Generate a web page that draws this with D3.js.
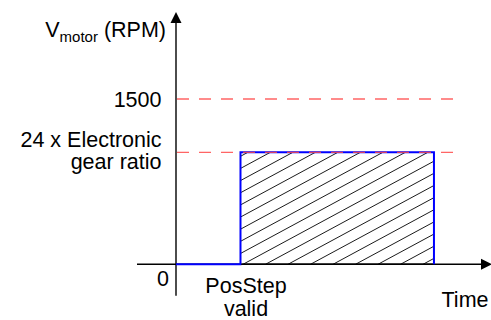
<!DOCTYPE html>
<html>
<head>
<meta charset="utf-8">
<script src="https://cdn.jsdelivr.net/npm/d3@7"></script>
<style>
  html, body { margin: 0; padding: 0; background: #fff; }
  svg { display: block; }
  text { font-family: "Liberation Sans", Arial, sans-serif; fill: #000; }
</style>
</head>
<body>
<svg id="chart" width="491" height="320"></svg>
<script>
// ---- data ----
const rpmTickValues = [0, 1500];
const rpmTickLabels = ["0", "1500"];
const gearRatioRPM = 1016;
const gearLabelLines = ["24 x Electronic", "gear ratio"];
const profileTime = [0, 20, 20, 80, 80];
const profileSpeed = [0, 0, gearRatioRPM, gearRatioRPM, 0];
const eventTime = 20;
const eventLabelLines = ["PosStep", "valid"];
const limitLines = [1500, gearRatioRPM];
const limitEndTime = 88.4;
const axisTimeMax = 98;
const yTitle = { main: "V", sub: "motor", rest: " (RPM)" };
const xTitle = "Time";

// ---- layout ----
const svg = d3.select("#chart");
const x = d3.scaleLinear().domain([0, axisTimeMax]).range([176, 492]);
const y = d3.scaleLinear().domain([0, 1500]).range([264.3, 99]);
const FS = 21.5;

// hatch clip
const defs = svg.append("defs");
const rx0 = x(profileTime[1]), rx1 = x(profileTime[3]);
const ry0 = y(gearRatioRPM), ry1 = y(0);
defs.append("clipPath").attr("id", "rectClip")
  .append("rect").attr("x", rx0).attr("y", ry0)
  .attr("width", rx1 - rx0).attr("height", ry1 - ry0);

// hatch lines (slope rising to the right)
const hatchDx = 22.5, slope = 0.54, hatchStart = rx0 + 2.5;
const hatchG = svg.append("g").attr("clip-path", "url(#rectClip)");
const H = ry1 - ry0;
const kMin = -Math.ceil((H / slope) / hatchDx) - 1;
const kMax = Math.ceil((rx1 - rx0) / hatchDx) + 1;
for (let k = kMin; k <= kMax; k++) {
  const bx = hatchStart + k * hatchDx;
  hatchG.append("line")
    .attr("x1", bx).attr("y1", ry1)
    .attr("x2", bx + H / slope).attr("y2", ry0)
    .attr("stroke", "#000").attr("stroke-width", 0.9);
}

// x axis
const xAxisY = y(0);
svg.append("line")
  .attr("x1", x(0) - 39).attr("y1", xAxisY)
  .attr("x2", x(axisTimeMax) - 10).attr("y2", xAxisY)
  .attr("stroke", "#000").attr("stroke-width", 1.4);
svg.append("path")
  .attr("d", `M${x(axisTimeMax)},${xAxisY} L${x(axisTimeMax) - 11},${xAxisY - 5.5} L${x(axisTimeMax) - 11},${xAxisY + 5.5} Z`)
  .attr("fill", "#000");

// y axis
const yTop = 12;
svg.append("line")
  .attr("x1", x(0)).attr("y1", xAxisY + 31.4)
  .attr("x2", x(0)).attr("y2", yTop + 8)
  .attr("stroke", "#000").attr("stroke-width", 1.4);
svg.append("path")
  .attr("d", `M${x(0)},${yTop} L${x(0) - 5.5},${yTop + 11} L${x(0) + 5.5},${yTop + 11} Z`)
  .attr("fill", "#000");

// speed profile (blue)
const line = d3.line().x((d, i) => x(profileTime[i])).y((d, i) => y(profileSpeed[i]));
svg.append("path")
  .datum(profileTime)
  .attr("d", line)
  .attr("fill", "none")
  .attr("stroke", "#0000ff")
  .attr("stroke-width", 2);

// bottom axis segment under rectangle in black
svg.append("line")
  .attr("x1", rx0 + 1).attr("y1", xAxisY).attr("x2", rx1 - 1).attr("y2", xAxisY)
  .attr("stroke", "#000").attr("stroke-width", 1.4);

// red dashed limit lines
svg.selectAll(".limit").data(limitLines).enter().append("line")
  .attr("class", "limit")
  .attr("x1", x(0) + 1).attr("x2", x(limitEndTime))
  .attr("y1", d => y(d)).attr("y2", d => y(d))
  .attr("stroke", "#ff4a4a").attr("stroke-opacity", 0.85)
  .attr("stroke-width", 1.4)
  .attr("stroke-dasharray", "12,10");

// y tick labels
const labelX = 161.5;
svg.selectAll(".ytl").data(rpmTickValues.filter(v => v !== 0)).enter().append("text")
  .attr("x", labelX).attr("y", d => y(d) + 7.7)
  .attr("text-anchor", "end").attr("font-size", FS)
  .text((d) => rpmTickLabels[rpmTickValues.indexOf(d)]);
svg.append("text")
  .attr("x", 169).attr("y", y(0) + 21.4)
  .attr("text-anchor", "end").attr("font-size", FS)
  .text(rpmTickLabels[0]);

// gear ratio label
svg.selectAll(".gl").data(gearLabelLines).enter().append("text")
  .attr("x", labelX)
  .attr("y", (d, i) => y(gearRatioRPM) - 5.6 + i * 22.6)
  .attr("text-anchor", "end").attr("font-size", FS)
  .text(d => d);

// y title
const yt = svg.append("text").attr("x", 166).attr("y", 37)
  .attr("text-anchor", "end").attr("font-size", FS);
yt.append("tspan").text(yTitle.main);
yt.append("tspan").attr("font-size", 15).attr("dy", 4.5).text(yTitle.sub);
yt.append("tspan").attr("dy", -4.5).text(yTitle.rest);

// event label
svg.selectAll(".ev").data(eventLabelLines).enter().append("text")
  .attr("x", x(eventTime) + 5.5)
  .attr("y", (d, i) => y(0) + 29 + i * 22.6)
  .attr("text-anchor", "middle").attr("font-size", FS)
  .text(d => d);

// x title
svg.append("text").attr("x", 488.5).attr("y", 307.3)
  .attr("text-anchor", "end").attr("font-size", FS)
  .text(xTitle);
</script>
</body>
</html>
